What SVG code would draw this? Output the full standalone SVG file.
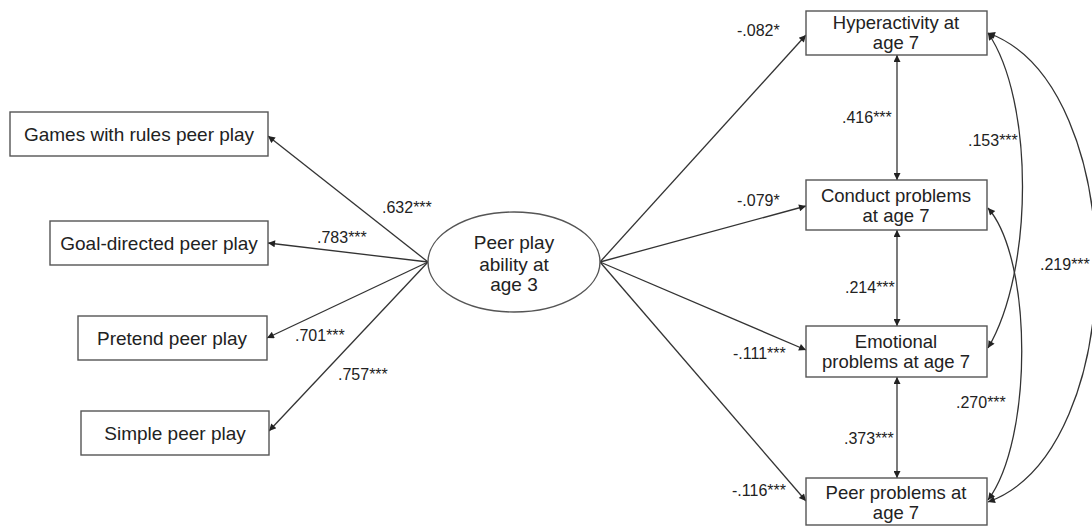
<svg xmlns="http://www.w3.org/2000/svg" width="1092" height="527" viewBox="0 0 1092 527">
<defs>
<marker id="ah" viewBox="0 0 10 10" refX="10" refY="5" markerWidth="9" markerHeight="7" markerUnits="userSpaceOnUse" orient="auto-start-reverse">
<path d="M0,0 L10,5 L0,10 z" fill="#222"/>
</marker>
<style>
.box{fill:#fff;stroke:#555;stroke-width:1.4}
.t{font-family:"Liberation Sans",Arial,sans-serif;fill:#222;text-anchor:middle}
.tl{font-size:19px}
.tr{font-size:18.5px}
.lab{font-family:"Liberation Sans",Arial,sans-serif;fill:#222;font-size:16px}
.c{fill:none;stroke:#333;stroke-width:1.3}
</style>
</defs>
<rect width="1092" height="527" fill="#fff"/>
<g id="connectors">
<path class="c" d="M428,262 L268,136" marker-end="url(#ah)"/>
<path class="c" d="M428,262 L268,243" marker-end="url(#ah)"/>
<path class="c" d="M428,262 L267,338" marker-end="url(#ah)"/>
<path class="c" d="M428,262 L269,431" marker-end="url(#ah)"/>
<path class="c" d="M600,262 L806,35" marker-end="url(#ah)"/>
<path class="c" d="M600,262 L806,206" marker-end="url(#ah)"/>
<path class="c" d="M600,262 L806,350" marker-end="url(#ah)"/>
<path class="c" d="M600,262 L806,501" marker-end="url(#ah)"/>
<path class="c" d="M897,55 L897,180" marker-start="url(#ah)" marker-end="url(#ah)"/>
<path class="c" d="M897,230 L897,326" marker-start="url(#ah)" marker-end="url(#ah)"/>
<path class="c" d="M897,377 L897,478" marker-start="url(#ah)" marker-end="url(#ah)"/>
<path class="c" d="M988,33 C1034,100 1034,270 988,348" marker-start="url(#ah)" marker-end="url(#ah)"/>
<path class="c" d="M988,208 C1033,260 1033,440 988,500" marker-start="url(#ah)" marker-end="url(#ah)"/>
<path class="c" d="M988,33 C1132,85 1132,450 988,502" marker-start="url(#ah)" marker-end="url(#ah)"/>
</g>
<g id="labels">
<text class="lab" x="382" y="213">.632***</text>
<text class="lab" x="317" y="243">.783***</text>
<text class="lab" x="295" y="341">.701***</text>
<text class="lab" x="338" y="380">.757***</text>
<text class="lab" x="737" y="36">-.082*</text>
<text class="lab" x="737" y="206">-.079*</text>
<text class="lab" x="733" y="359">-.111***</text>
<text class="lab" x="732" y="496">-.116***</text>
<text class="lab" x="842" y="123">.416***</text>
<text class="lab" x="968" y="146">.153***</text>
<text class="lab" x="845" y="293">.214***</text>
<text class="lab" x="1040" y="270">.219***</text>
<text class="lab" x="956" y="408">.270***</text>
<text class="lab" x="844" y="444">.373***</text>
</g>
<g id="n-games"><rect class="box" x="10" y="112" width="258" height="44"/><text class="t tl" x="139" y="141">Games with rules peer play</text></g>
<g id="n-goal"><rect class="box" x="50" y="221" width="218" height="44"/><text class="t tl" x="159" y="250">Goal-directed peer play</text></g>
<g id="n-pretend"><rect class="box" x="78" y="316" width="189" height="44"/><text class="t tl" x="172" y="345">Pretend peer play</text></g>
<g id="n-simple"><rect class="box" x="81" y="411" width="188" height="44"/><text class="t tl" x="175" y="440">Simple peer play</text></g>
<g id="n-peerplay"><ellipse class="box" cx="514" cy="262" rx="86" ry="50"/>
<text class="t tl" x="514" y="249">Peer play</text><text class="t tl" x="514" y="271">ability at</text><text class="t tl" x="514" y="291">age 3</text></g>
<g id="n-hyper"><rect class="box" x="806" y="11" width="181" height="44"/><text class="t tr" x="896" y="29">Hyperactivity at</text><text class="t tr" x="896" y="49">age 7</text></g>
<g id="n-conduct"><rect class="box" x="806" y="180" width="181" height="50"/><text class="t tr" x="896" y="202">Conduct problems</text><text class="t tr" x="896" y="222">at age 7</text></g>
<g id="n-emotional"><rect class="box" x="806" y="326" width="181" height="51"/><text class="t tr" x="896" y="348">Emotional</text><text class="t tr" x="896" y="368">problems at age 7</text></g>
<g id="n-peerprob"><rect class="box" x="806" y="478" width="181" height="47"/><text class="t tr" x="896" y="499">Peer problems at</text><text class="t tr" x="896" y="519">age 7</text></g>
</svg>
